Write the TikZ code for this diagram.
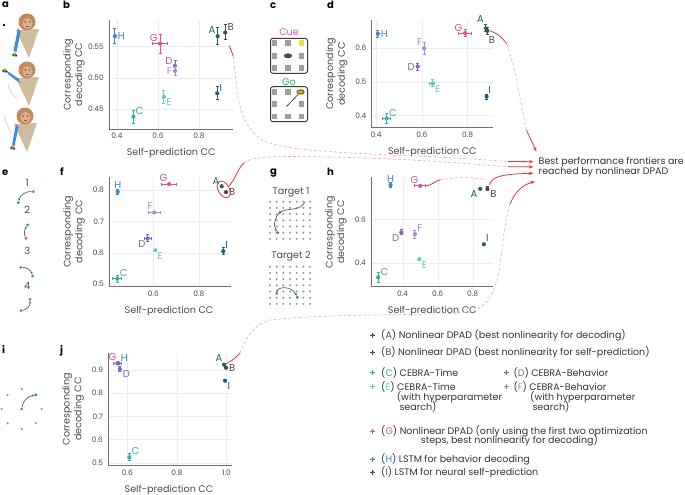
\documentclass[tikz,border=0pt]{standalone}
\usepackage{fontspec}
\setmainfont{Poppins}
\usetikzlibrary{arrows.meta,shapes.geometric}

\definecolor{colA}{HTML}{21684A}
\definecolor{colB}{HTML}{474747}
\definecolor{colC}{HTML}{2FB3A3}
\definecolor{colD}{HTML}{8763B0}
\definecolor{colE}{HTML}{66CBBB}
\definecolor{colF}{HTML}{A98BCC}
\definecolor{colG}{HTML}{E04F98}
\definecolor{colH}{HTML}{3B87C8}
\definecolor{colI}{HTML}{1D5B8C}
\definecolor{axgray}{HTML}{6E6E6E}
\definecolor{gridgray}{HTML}{EDEDED}
\definecolor{tickgray}{HTML}{4A4A4A}
\definecolor{txtgray}{HTML}{333333}
\definecolor{frontred}{HTML}{E8313D}
\definecolor{dashpink}{HTML}{F6A99F}
\definecolor{dotgray}{HTML}{9B9B9B}
\definecolor{sqgray}{HTML}{9E9E9E}
\definecolor{boxdark}{HTML}{3A3A3A}
\definecolor{cueyel}{HTML}{E8E43A}
\definecolor{eyebrown}{HTML}{8B5A2B}
\definecolor{cuepink}{HTML}{E8559A}
\definecolor{gogreen}{HTML}{2EAA5F}
\definecolor{trajgray}{HTML}{4B5B73}
\definecolor{startpink}{HTML}{E8417F}
\definecolor{endgreen}{HTML}{1E9E55}
\definecolor{monkhead}{HTML}{C08A5A}
\definecolor{monkface}{HTML}{DDB089}
\definecolor{monkbody}{HTML}{D2BC9F}
\definecolor{armblue}{HTML}{3C8ED8}

\newcommand{\tickfont}{\fontsize{7.5}{8}\selectfont}
\newcommand{\axfont}{\fontsize{9.6}{11.7}\selectfont}
\newcommand{\lblfont}{\fontsize{10}{11}\selectfont}
\newcommand{\legfont}{\fontsize{9.5}{10}\selectfont}

% error bars through a point node
\newcommand{\errv}[3]{\draw[ebar,#1] ([yshift=-#3]#2.center) -- ([yshift=#3]#2.center);}
\newcommand{\errh}[3]{\draw[ebar,#1] ([xshift=-#3]#2.center) -- ([xshift=#3]#2.center);}

\begin{document}
\begin{tikzpicture}[x=1pt,y=-1pt,
    pt/.style={circle,fill=#1,inner sep=0pt,minimum size=4.2pt,label distance=0.5pt},
    lbl/.style={text=#1,font=\lblfont,inner sep=0.5pt},
    ebar/.style={line width=1pt,{Bar[width=3pt]}-{Bar[width=3pt]}},
    axisline/.style={draw=axgray,line width=0.6pt},
    gridline/.style={draw=gridgray,line width=0.4pt},
    xtick/.style={anchor=north,yshift=-3pt,font=\tickfont,text=tickgray,inner sep=1pt},
    ytick/.style={anchor=east,xshift=-4pt,font=\tickfont,text=tickgray,inner sep=1pt},
    xlab/.style={font=\axfont,text=tickgray,yshift=-24pt},
    ylab/.style={font=\axfont,text=tickgray,align=center,xshift=-35pt,rotate=90},
    plet/.style={font=\bfseries\fontsize{10}{10}\selectfont,anchor=base west,inner sep=0pt},
    redln/.style={draw=frontred,line width=0.8pt},
    redarr/.style={draw=frontred,line width=0.8pt,-{Stealth[length=4.5pt,width=3.2pt]}},
    dashln/.style={draw=dashpink,line width=0.6pt,dash pattern=on 3pt off 2pt},
    legtxt/.style={anchor=west,font=\legfont,text=txtgray,inner sep=0pt},
    traj/.style={draw=trajgray,line width=0.7pt,-{Stealth[length=2.5pt,width=2.2pt]}},
    sdot/.style={circle,fill=startpink,inner sep=0pt,minimum size=3pt},
    gdot/.style={circle,fill=endgreen,inner sep=0pt,minimum size=3pt},
    sq/.style={fill=#1,inner sep=0pt,minimum size=5.6pt},
    cuebox/.style={draw=boxdark,line width=1pt,rounded corners=2.5pt,minimum width=37pt,minimum height=35pt},
    eye/.style={ellipse,draw=black!85,fill=eyebrown,line width=0.5pt,minimum width=7.5pt,minimum height=4.2pt,inner sep=0pt}]

\useasboundingbox (0,0) rectangle (685,495);

% panel letters
\node[plet] (la) at (2,8) {a};
\node[plet] (lb) at (63,8.5) {b};
\node[plet] (lc) at (270,9) {c};
\node[plet] (ld) at (327,9) {d};
\node[plet] (le) at (2,175) {e};
\node[plet] (lf) at (60,175) {f};
\node[plet] (lg) at (270,174) {g};
\node[plet] (lh) at (327,175) {h};
\node[plet] (li) at (2,353) {i};
\node[plet] (lj) at (60,353) {j};

% a: monkeys
\fill[black] (4,25) circle (1.3);
\foreach \hx/\hy in {27/22, 27/70, 25/116} {
  \fill[monkbody] (\hx-11,\hy+8) -- (\hx+12,\hy+7) -- (\hx+2,\hy+36) -- cycle;
  \fill[monkhead] (\hx,\hy) circle (8.5);
  \fill[monkface] (\hx+0.5,\hy+1.5) ellipse (5 and 5.5);
  \fill[black!70] (\hx-1.8,\hy) circle (0.8) (\hx+2.6,\hy) circle (0.8);
  \draw[black!60,line width=0.4pt] (\hx-1,\hy+4.5) -- (\hx+2,\hy+4.5);
}
\fill[armblue] (18,28) -- (20.5,32) -- (16.5,52) -- (13.5,51) -- cycle;
\fill[armblue] (19,79) -- (19.5,83) -- (8,74) -- (6.5,70.5) -- cycle;
\fill[armblue] (16,124) -- (18.5,127.5) -- (14.5,146) -- (12,145) -- cycle;
\draw[black!20,line width=0.6pt] (8,84) .. controls (10,92) and (13,96) .. (17,98);
\draw[black!20,line width=0.6pt] (4,116) .. controls (7,124) .. (11,134);
\foreach \ox/\oy in {15/55, 5/71, 13/148} {
  \fill[green!60!black] (\ox-1.5,\oy) circle (1.6);
  \fill[violet] (\ox+1,\oy+0.5) circle (1.4);
  \fill[orange] (\ox,\oy-1.5) circle (1.1);
}

% b
\begin{scope}[shift={(35,387.7)},x=205pt,y=620pt]
  \foreach \v in {0.4,0.6,0.8} {
    \draw[gridline] (\v,0.417) -- (\v,0.593);
    \node[xtick] at (\v,0.417) {\v};
  }
  \foreach \v in {0.45,0.50,0.55} {
    \draw[gridline] (0.361,\v) -- (0.966,\v);
    \node[ytick] at (0.361,\v) {\v};
  }
  \draw[axisline] (0.361,0.593) -- (0.361,0.417) -- (0.966,0.417);
  \node[xlab] (bxl) at (0.664,0.417) {Self-prediction CC};
  \node[ylab] (byl) at (0.361,0.505) {Corresponding\\decoding CC};

  \node[pt=colH,label={[lbl=colH]0:H}] (bH) at (0.390,0.567) {};
  \errv{colH}{bH}{8pt}
  \node[pt=colG,label={[lbl=colG]135:G}] (bG) at (0.610,0.555) {};
  \errv{colG}{bG}{10pt}\errh{colG}{bG}{8.3pt}
  \node[pt=colA,label={[lbl=colA]135:A}] (bA) at (0.891,0.567) {};
  \errv{colA}{bA}{9pt}
  \node[pt=colB,label={[lbl=colB]45:B}] (bB) at (0.928,0.573) {};
  \errv{colB}{bB}{8pt}
  \node[pt=colD,label={[lbl=colD]150:D}] (bD) at (0.683,0.519) {};
  \errv{colD}{bD}{5.5pt}
  \node[pt=colF,label={[lbl=colF]180:F}] (bF) at (0.683,0.511) {};
  \errv{colF}{bF}{5pt}
  \node[pt=colI,label={[lbl=colI]40:I}] (bI) at (0.889,0.475) {};
  \errv{colI}{bI}{7pt}
  \node[pt=colE,label={[lbl=colE]-30:E}] (bE) at (0.629,0.469) {};
  \errv{colE}{bE}{7pt}
  \node[pt=colC,label={[lbl=colC]45:C}] (bC) at (0.480,0.437) {};
  \errv{colC}{bC}{7pt}
\end{scope}

% c
\node[text=cuepink,font=\axfont] (cue) at (289,32.3) {Cue};
\node[cuebox] (box1) at (289,55.8) {};
\foreach \sx/\sy in {274.5/43.3, 288/43.3, 274.5/55.8, 301.5/55.8, 274.5/68.3, 288/68.3, 301.5/68.3}
  \node[sq=sqgray] at (\sx,\sy) {};
\node[sq=cueyel] (tgt1) at (301.5,43.3) {};
\node[eye] (eye1) at (288,55.8) {};
\fill[black!80] (eye1.center) ellipse (1.3 and 1.2);
\node[text=gogreen,font=\axfont] (go) at (289,81.7) {Go};
\node[cuebox] (box2) at (289,104.2) {};
\foreach \sx/\sy in {274.5/92, 288/92, 274.5/104.2, 301.5/104.2, 274.5/116.4, 288/116.4, 301.5/116.4}
  \node[sq=sqgray] at (\sx,\sy) {};
\node[sq=cueyel] (tgt2) at (301.5,92) {};
\node[eye,fill=cueyel!60!eyebrown] (eye2) at (300.5,92) {};
\coordinate (gz) at (286.5,106.5);
\draw[draw=trajgray!80!blue,line width=0.8pt] (gz) -- (eye2);

% d
\begin{scope}[shift={(284.4,250.2)},x=229pt,y=337pt]
  \foreach \v in {0.4,0.6,0.8} {
    \draw[gridline] (\v,0.3635) -- (\v,0.683);
    \node[xtick] at (\v,0.3635) {\v};
  }
  \foreach \v in {0.4,0.5,0.6} {
    \draw[gridline] (0.381,\v) -- (0.911,\v);
    \node[ytick] at (0.381,\v) {\v};
  }
  \draw[axisline] (0.381,0.683) -- (0.381,0.3635) -- (0.911,0.3635);
  \node[xlab] (dxl) at (0.646,0.3635) {Self-prediction CC};
  \node[ylab] (dyl) at (0.381,0.523) {Corresponding\\decoding CC};

  \node[pt=colH,label={[lbl=colH]0:H}] (dH) at (0.408,0.642) {};
  \errv{colH}{dH}{4pt}
  \node[pt=colG,label={[lbl=colG]145:G}] (dG) at (0.789,0.644) {};
  \errv{colG}{dG}{4pt}\errh{colG}{dG}{7pt}
  \node[pt=colA,label={[lbl=colA,yshift=3pt]125:A}] (dA) at (0.880,0.658) {};
  \errv{colA}{dA}{4pt}
  \node[pt=colB,label={[lbl=colB,yshift=-3pt]-65:B}] (dB) at (0.886,0.651) {};
  \errv{colB}{dB}{4pt}
  \node[pt=colF,label={[lbl=colF]125:F}] (dF) at (0.610,0.599) {};
  \errv{colF}{dF}{6.7pt}
  \node[pt=colD,label={[lbl=colD]180:D}] (dD) at (0.582,0.545) {};
  \errv{colD}{dD}{4pt}
  \node[pt=colE,label={[lbl=colE]-30:E}] (dE) at (0.646,0.495) {};
  \errv{colE}{dE}{4pt}\errh{colE}{dE}{3pt}
  \node[pt=colI,label={[lbl=colI]60:I}] (dI) at (0.883,0.456) {};
  \errv{colI}{dI}{3pt}
  \node[pt=colC,label={[lbl=colC]40:C}] (dC) at (0.447,0.391) {};
  \errv{colC}{dC}{5.3pt}\errh{colC}{dC}{4.5pt}
\end{scope}

% e
\foreach \k/\ny in {1/182.7, 2/210, 3/250.7, 4/286}
  \node[font=\lblfont,text=tickgray] (en\k) at (27.3,\ny) {\k};
\node[sdot] (e1s) at (33.3,191.7) {};
\node[gdot] (e1g) at (18.3,202.7) {};
\node[sdot] (e2s) at (26,238.3) {};
\node[gdot] (e2g) at (27.7,225) {};
\node[sdot] (e3s) at (20.7,267.3) {};
\node[gdot] (e3g) at (32.7,276) {};
\node[sdot] (e4s) at (21,310.7) {};
\node[gdot] (e4g) at (30,299.3) {};
\draw[traj] (e1s) to[bend right=40] (e1g);
\draw[traj] (e2s) to[bend left=30] (e2g);
\draw[traj] (e3s) to[bend left=35] (e3g);
\draw[traj] (e4s) to[bend right=40] (e4g);

% f
\begin{scope}[shift={(16.5,439.9)},x=228pt,y=312pt]
  \foreach \v in {0.6,0.8} {
    \draw[gridline] (\v,0.491) -- (\v,0.842);
    \node[xtick] at (\v,0.491) {\v};
  }
  \foreach \v in {0.5,0.6,0.7,0.8} {
    \draw[gridline] (0.406,\v) -- (0.941,\v);
    \node[ytick] at (0.406,\v) {\v};
  }
  \draw[axisline] (0.406,0.842) -- (0.406,0.491) -- (0.941,0.491);
  \node[xlab] (fxl) at (0.669,0.491) {Self-prediction CC};
  \node[ylab] (fyl) at (0.406,0.667) {Corresponding\\decoding CC};

  \node[pt=colH,label={[lbl=colH]90:H}] (fH) at (0.444,0.795) {};
  \errv{colH}{fH}{3pt}
  \node[pt=colG,label={[lbl=colG]115:G}] (fG) at (0.669,0.820) {};
  \errh{colG}{fG}{8pt}
  \node[pt=colA,label={[lbl=colA]140:A}] (fA) at (0.900,0.813) {};
  \node[pt=colB,label={[lbl=colB]0:B}] (fB) at (0.919,0.794) {};
  \node[pt=colF,label={[lbl=colF]110:F}] (fF) at (0.604,0.729) {};
  \errh{colF}{fF}{6.7pt}
  \node[pt=colD,label={[lbl=colD]230:D}] (fD) at (0.575,0.646) {};
  \errv{colD}{fD}{4pt}\errh{colD}{fD}{4pt}
  \node[pt=colE,label={[lbl=colE]-45:E}] (fE) at (0.609,0.608) {};
  \node[pt=colI,label={[lbl=colI]55:I}] (fI) at (0.907,0.605) {};
  \errv{colI}{fI}{4pt}
  \node[pt=colC,label={[lbl=colC]35:C}] (fC) at (0.442,0.517) {};
  \errv{colC}{fC}{4pt}\errh{colC}{fC}{5pt}
  \node[draw=frontred,ellipse,line width=0.8pt,minimum width=11pt,minimum height=18pt,inner sep=0pt,rotate=30] (fRing) at (0.909,0.803) {};
\end{scope}

% g
\node[font=\axfont,text=tickgray] (gt1) at (291,192.3) {Target 1};
\node[font=\axfont,text=tickgray] (gt2) at (291,256.7) {Target 2};
\foreach \i in {0,...,6}
  \foreach \j in {0,...,6} {
    \fill[dotgray] (270+\i*6.67,201.7+\j*6.2) circle (1.15);
    \fill[dotgray] (270+\i*6.67,266.7+\j*6.2) circle (1.15);
  }
\coordinate (g1o) at (305,201.7);
\node[sdot] (g1s) at (280,212.3) {};
\node[gdot] (g1g) at (277.7,232.7) {};
\draw[traj,-] (g1o) .. controls (300,212) and (289,207) .. (g1s.center);
\draw[traj] (g1s.center) .. controls (275,216) and (273,226) .. (g1g);
\node[sdot] (g2s) at (276.7,293.3) {};
\node[gdot] (g2g) at (297.3,297.3) {};
\draw[traj] (g2s) .. controls (278,286) and (292,286) .. (g2g);

% h
\begin{scope}[shift={(332.7,349.5)},x=175pt,y=217pt]
  \foreach \v in {0.4,0.6,0.8} {
    \draw[gridline] (\v,0.289) -- (\v,0.7935);
    \node[xtick] at (\v,0.289) {\v};
  }
  \foreach \v in {0.4,0.6} {
    \draw[gridline] (0.219,\v) -- (0.916,\v);
    \node[ytick] at (0.219,\v) {\v};
  }
  \draw[axisline] (0.219,0.7935) -- (0.219,0.289) -- (0.916,0.289);
  \node[xlab] (hxl) at (0.569,0.289) {Self-prediction CC};
  \node[ylab] (hyl) at (0.219,0.541) {Corresponding\\decoding CC};

  \node[pt=colH,label={[lbl=colH]90:H}] (hH) at (0.331,0.758) {};
  \errv{colH}{hH}{3.3pt}
  \node[pt=colG,label={[lbl=colG]120:G}] (hG) at (0.500,0.754) {};
  \errh{colG}{hG}{6pt}
  \node[pt=colA,label={[lbl=colA]205:A}] (hA) at (0.843,0.740) {};
  \node[pt=colB,label={[lbl=colB]-20:B}] (hB) at (0.884,0.740) {};
  \errv{colB}{hB}{2.5pt}
  \node[pt=colF,label={[lbl=colF]45:F}] (hF) at (0.470,0.532) {};
  \errv{colF}{hF}{4.5pt}
  \node[pt=colD,label={[lbl=colD]230:D}] (hD) at (0.392,0.540) {};
  \errv{colD}{hD}{3pt}
  \node[pt=colI,label={[lbl=colI]50:I}] (hI) at (0.864,0.485) {};
  \node[pt=colE,label={[lbl=colE]-40:E}] (hE) at (0.495,0.416) {};
  \node[pt=colC,label={[lbl=colC]40:C}] (hC) at (0.260,0.333) {};
  \errv{colC}{hC}{5.5pt}
\end{scope}

% i
\node[sdot] (is) at (21.7,409) {};
\foreach \a in {0,45,90,135,180,225,270,315}
  \fill[dotgray] (21.7+20*cos \a,409-20*sin \a) circle (1.3);
\node[gdot] (ig) at (35.8,394.9) {};
\draw[traj] (is) to[bend left=35] (ig);

% j
\begin{scope}[shift={(-21.5,578.8)},x=248pt,y=232pt]
  \foreach \v in {0.6,0.8,1.0} {
    \draw[gridline] (\v,0.4875) -- (\v,0.9746);
    \node[xtick] at (\v,0.4875) {\v};
  }
  \foreach \v in {0.5,0.6,0.7,0.8,0.9} {
    \draw[gridline] (0.523,\v) -- (1.021,\v);
    \node[ytick] at (0.523,\v) {\v};
  }
  \draw[axisline] (0.523,0.9746) -- (0.523,0.4875) -- (1.021,0.4875);
  \node[xlab] (jxl) at (0.768,0.4875) {Self-prediction CC};
  \node[ylab] (jyl) at (0.523,0.731) {Corresponding\\decoding CC};

  \node[pt=colG,label={[lbl=colG]100:G}] (jG) at (0.560,0.929) {};
  \errh{colG}{jG}{4.7pt}
  \node[pt=colH,label={[lbl=colH]40:H}] (jH) at (0.564,0.929) {};
  \node[pt=colD,label={[lbl=colD]-10:D}] (jD) at (0.570,0.904) {};
  \errv{colD}{jD}{3pt}
  \node[pt=colA,label={[lbl=colA]115:A}] (jA) at (0.990,0.923) {};
  \node[pt=colB,label={[lbl=colB]0:B}] (jB) at (0.998,0.910) {};
  \node[pt=colI,label={[lbl=colI]-30:I}] (jI) at (0.994,0.854) {};
  \node[pt=colC,label={[lbl=colC]45:C}] (jC) at (0.608,0.524) {};
  \errv{colC}{jC}{4pt}
\end{scope}

% frontier text and arrows
\node[anchor=west,align=left,font=\legfont,text=txtgray,inner sep=0pt] (front) at (538.5,166.7)
  {Best performance frontiers are\\reached by nonlinear DPAD};
\coordinate (t1) at (536.5,151.5);
\coordinate (t2) at (533.5,161.7);
\coordinate (t3) at (533.5,166.9);
\coordinate (t4) at (533.5,173.3);
\coordinate (t5) at (535,181.5);

\draw[redln] ([xshift=4pt,yshift=-13pt]bB.center) .. controls (231,50) .. (233.3,56) coordinate (pb1);
\draw[dashln] (pb1) .. controls (238,95) and (236,120) .. (262,140)
  .. controls (290,155) and (400,153) .. (508,161.5) coordinate (pb2);
\draw[redarr] (pb2) -- (t2);

\draw[redln] (fRing.east) .. controls (236,178) and (238,168) .. (244,163) coordinate (pf1);
\draw[dashln] (pf1) .. controls (252,156) and (275,156) .. (330,157)
  .. controls (420,159) and (470,164) .. (508,166.7) coordinate (pf2);
\draw[redarr] (pf2) -- (t3);

\draw[redln] ([xshift=3pt]dB.center) .. controls (497,33) and (503,38) .. (506.7,44) coordinate (pd1);
\draw[dashln] (pd1) .. controls (514,62) and (520,100) .. (526.5,130) coordinate (pd2);
\draw[redarr] (pd2) .. controls (530,138) .. (t1);

\draw[redln] ([xshift=6pt]hG.center) .. controls (432,185) and (435,181) .. (440,180) coordinate (pg1);
\draw[dashln] (pg1) .. controls (460,176) and (475,178) .. (486,179.5) coordinate (pg2);
\draw[redarr] ([xshift=2pt,yshift=4pt]hB.center) .. controls (492,177) and (500,174) .. (t4);

\draw[redln] ([xshift=2pt,yshift=1pt]jA.center) .. controls (232,361) and (237,357) .. (240,353) coordinate (pj1);
\draw[dashln] (pj1) .. controls (245,340) and (252,325) .. (270,320)
  .. controls (330,313) and (440,316) .. (470,312)
  .. controls (495,305) and (498,280) .. (502,250)
  .. controls (505,225) and (507,212) .. (510,204) coordinate (pj2);
\draw[redarr] (pj2) .. controls (515,192) and (522,185) .. (t5);

% legend
\foreach \n/\c/\x/\y in {A/colA/372.7/335, B/colB/372.7/352.3, C/colC/372.7/372.5, D/colD/506/372.5,
    E/colE/372.7/386.7, F/colF/506/386.7, G/colG/372.7/431, H/colH/372.7/459, I/colI/372.7/472} {
  \node[circle,fill=\c,inner sep=0pt,minimum size=2.8pt] (m\n) at (\x,\y) {};
  \draw[\c,line width=0.9pt] (m\n.center) ++(-2.5pt,0) -- ++(5pt,0) (m\n.center) ++(0,-2.5pt) -- ++(0,5pt);
}
\node[legtxt] (gA) at (381,335) {(\textcolor{colA}{A}) Nonlinear DPAD (best nonlinearity for decoding)};
\node[legtxt] (gB) at (381,352.3) {(\textcolor{colB}{B}) Nonlinear DPAD (best nonlinearity for self-prediction)};
\node[legtxt] (gC) at (381,372.5) {(\textcolor{colC}{C}) CEBRA-Time};
\node[legtxt] (gD) at (513.3,372.5) {(\textcolor{colD}{D}) CEBRA-Behavior};
\node[legtxt] (gE) at (381,386.7) {(\textcolor{colE}{E}) CEBRA-Time};
\node[legtxt] (gE2) at (396.7,397.3) {(with hyperparameter};
\node[legtxt] (gE3) at (399.3,407.3) {search)};
\node[legtxt] (gF) at (513.3,386.7) {(\textcolor{colF}{F}) CEBRA-Behavior};
\node[legtxt] (gF2) at (530,397.3) {(with hyperparameter};
\node[legtxt] (gF3) at (532.3,407.3) {search)};
\node[legtxt] (gG) at (381,431) {(\textcolor{colG}{G}) Nonlinear DPAD (only using the first two optimization};
\node[legtxt] (gG2) at (420.7,440.7) {steps, best nonlinearity for decoding)};
\node[legtxt] (gH) at (381,459) {(\textcolor{colH}{H}) LSTM for behavior decoding};
\node[legtxt] (gI) at (381,472) {(\textcolor{colI}{I}) LSTM for neural self-prediction};

\end{tikzpicture}
\end{document}
